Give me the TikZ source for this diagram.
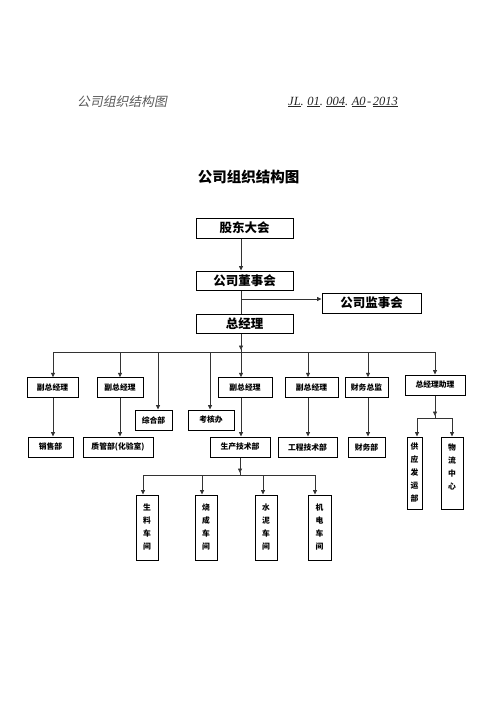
\documentclass[tikz,border=0pt]{standalone}
\usepackage{fontspec}
\setmainfont{Liberation Serif}
\newfontfamily\cjk{Noto Sans CJK SC}
\newfontfamily\cjksl{Noto Sans CJK SC}[FakeSlant=0.2]
\usetikzlibrary{arrows.meta,calc}
\tikzset{
  box/.style={draw=black, line width=1pt, inner sep=0pt, align=center, font=\cjk\bfseries},
  bigbox/.style={box, minimum width=97pt, minimum height=20pt, font=\cjk\bfseries\fontsize{12.5}{14}\selectfont},
  smallbox/.style={box, minimum height=19.5pt, font=\cjk\bfseries\fontsize{7.8}{9}\selectfont},
  vbox/.style={box, font=\cjk\bfseries\fontsize{7.8}{13}\selectfont},
  conn/.style={draw=black!80, line width=0.8pt},
  arr/.style={conn, -{Triangle[length=4.5pt,width=4pt]}}
}
\newcommand{\gapdot}{.\hspace{3.5pt}}
\begin{document}
\begin{tikzpicture}[x=1pt,y=-1pt]
\useasboundingbox (0,0) rectangle (496,702);
% header
\node[anchor=west, text=black!65, font=\cjksl\fontsize{12.8}{14}\selectfont, inner sep=0pt] (hl) at (77,102) {公司组织结构图};
\node[anchor=west, text=black!85, font=\itshape\fontsize{12.5}{13}\selectfont, inner sep=0pt] (hr) at (288,102)
  {\underline{JL}\gapdot\underline{01}\gapdot\underline{004}\gapdot\underline{A0}\hspace{1.5pt}-\hspace{1.5pt}\underline{2013}};
\node[font=\cjk\bfseries\fontsize{14.5}{16}\selectfont, inner sep=0pt] (title) at (248.5,177) {公司组织结构图};

% top boxes
\node[bigbox] (gd)  at (244.5,228)   {股东大会};
\node[bigbox, minimum height=19pt] (dsh) at (244.5,280.5) {公司董事会};
\node[bigbox, minimum width=99pt] (jsh) at (371.5,303) {公司监事会};
\node[bigbox, minimum height=19pt] (zjl) at (244.5,323.5) {总经理};

% middle row
\node[smallbox, minimum width=51pt] (fz1) at (52.5,387.5) {副总经理};
\node[smallbox, minimum width=46pt] (fz2) at (120,387.5)  {副总经理};
\node[smallbox, minimum width=37pt, minimum height=20pt] (zh) at (153.5,420) {综合部};
\node[smallbox, minimum width=46pt, minimum height=20pt] (kh) at (211,420)   {考核办};
\node[smallbox, minimum width=54pt] (fz3) at (245,387.5)  {副总经理};
\node[smallbox, minimum width=53pt] (fz4) at (311.5,387.5) {副总经理};
\node[smallbox, minimum width=43pt] (cwzj) at (366.5,387.5) {财务总监};
\node[smallbox, minimum width=60pt, minimum height=20pt] (zlzl) at (435,385) {总经理助理};

% bottom row
\node[smallbox, minimum width=45pt, minimum height=20pt] (xs) at (50.5,447) {销售部};
\node[smallbox, minimum width=70pt, minimum height=20pt] (zg) at (118,447)  {质管部(化验室)};
\node[smallbox, minimum width=60pt, minimum height=20pt] (scjs) at (240,447) {生产技术部};
\node[smallbox, minimum width=59pt, minimum height=20pt] (gc) at (307.5,447) {工程技术部};
\node[smallbox, minimum width=37pt, minimum height=20pt] (cw) at (366.5,447) {财务部};
\node[vbox, minimum width=15pt, minimum height=72pt] (gy) at (414.5,473) {供\\应\\发\\运\\部};
\node[vbox, minimum width=22pt, minimum height=72pt] (wl) at (452,473) {物\\流\\中\\心\\~};

% workshops
\node[vbox, minimum width=22pt, minimum height=65pt] (sl) at (147,527.5) {生\\料\\车\\间};
\node[vbox, minimum width=22pt, minimum height=65pt] (sh) at (206,527.5) {烧\\成\\车\\间};
\node[vbox, minimum width=22pt, minimum height=65pt] (sn) at (266,527.5) {水\\泥\\车\\间};
\node[vbox, minimum width=23pt, minimum height=65pt] (jd) at (319.5,527.5) {机\\电\\车\\间};

% top connectors
\draw[arr] ([xshift=-3.5pt]gd.south) -- ([xshift=-3.5pt]dsh.north);
\draw[conn] ([xshift=-3.5pt]dsh.south) -- ([xshift=-3.5pt]zjl.north);
\coordinate (jbr) at (241,299);
\draw[arr] (jbr) -- (jsh.west |- jbr);

% main bus
\coordinate (bus) at (241,352);
\coordinate (busA) at (241,349);
\coordinate (busL) at (53,352);
\coordinate (busR) at (435,352);
\coordinate (t2) at (120,352);
\coordinate (t3) at (158,352);
\coordinate (t4) at (210,352);
\coordinate (t6) at (308,352);
\coordinate (t7) at (368,352);
\draw[arr] ([xshift=-3.5pt]zjl.south) -- ([yshift=-1pt]busA);
\draw[conn] (busA) -- (bus);
\draw[conn] (busL) -- (busR);
\draw[arr] (busL) -- (busL |- fz1.north);
\draw[arr] (t2) -- (t2 |- fz2.north);
\draw[arr] (t3) -- (t3 |- zh.north);
\draw[arr] (t4) -- (t4 |- kh.north);
\draw[arr] (bus) -- (bus |- fz3.north);
\draw[arr] (t6) -- (t6 |- fz4.north);
\draw[arr] (t7) -- (t7 |- cwzj.north);
\draw[arr] (busR) -- (busR |- zlzl.north);

% middle-to-bottom
\draw[arr] (busL |- fz1.south) -- (busL |- xs.north);
\draw[arr] (t2 |- fz2.south) -- (t2 |- zg.north);
\draw[arr] (bus |- fz3.south) -- (bus |- scjs.north);
\draw[arr] (t6 |- fz4.south) -- (t6 |- gc.north);
\draw[arr] (t7 |- cwzj.south) -- (t7 |- cw.north);

% assistant branch
\coordinate (ab) at (435,418);
\coordinate (abA) at (435,415);
\coordinate (abL) at (417,418);
\coordinate (abR) at (452,418);
\draw[arr] (zlzl.south) -- ([yshift=-1pt]abA);
\draw[conn] (abA) -- (ab);
\draw[conn] (abL) -- (abR);
\draw[arr] (abL) -- (abL |- gy.north);
\draw[arr] (abR) -- (abR |- wl.north);

% workshop branch
\coordinate (wb) at (240,475);
\coordinate (wbA) at (240,472);
\coordinate (w1) at (143,475);
\coordinate (w2) at (202,475);
\coordinate (w3) at (263,475);
\coordinate (w4) at (315,475);
\draw[arr] (scjs.south) -- ([yshift=-1pt]wbA);
\draw[conn] (wbA) -- (wb);
\draw[conn] (w1) -- (w4);
\draw[arr] (w1) -- (w1 |- sl.north);
\draw[arr] (w2) -- (w2 |- sh.north);
\draw[arr] (w3) -- (w3 |- sn.north);
\draw[arr] (w4) -- (w4 |- jd.north);
\end{tikzpicture}
\end{document}
